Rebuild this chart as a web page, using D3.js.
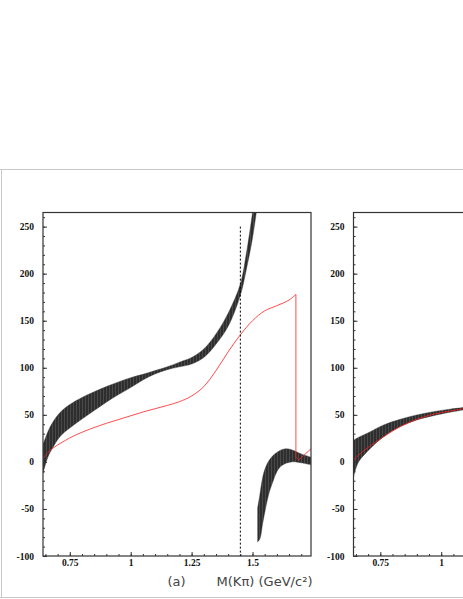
<!DOCTYPE html>
<html>
<head>
<meta charset="utf-8">
<script src="https://cdn.jsdelivr.net/npm/d3@7"></script>
<style>
  body { margin: 0; background: #fff; }
  svg { display: block; }
</style>
</head>
<body>
<div id="chart"></div>
<script>
// panel (a): error band, first branch (below the pole)
const massA = [0.64, 0.66, 0.68, 0.71, 0.75, 0.8, 0.85, 0.9, 0.95, 1.0, 1.05, 1.1, 1.15, 1.2, 1.25, 1.3, 1.35, 1.4, 1.45, 1.475, 1.5, 1.525]
const highA = [18, 32, 42, 52.5, 61, 68.5, 74.5, 80, 85, 89.5, 93, 97, 101, 106, 111, 120, 136, 158, 189, 222, 265, 315]
const lowA  = [-12, 5, 15, 27, 36, 45.5, 54.5, 63.5, 71.5, 79, 87, 93.5, 98, 101, 104, 111, 125, 144, 177, 205, 238, 283]

// panel (a): error band, second branch (above the pole)
const massB = [1.521, 1.53, 1.542, 1.555, 1.569, 1.585, 1.597, 1.615, 1.637, 1.66, 1.678, 1.70, 1.74]
const highB = [-49, -35, -16, -5, 2, 7, 9.5, 12.5, 14, 13, 11, 8.5, 5]
const lowB  = [-85, -82, -65, -47.5, -32, -20, -12, -5, -1.5, 0, 0, -1, -3]

// panel (a): red curve
const redMass = [0.64, 0.66, 0.68, 0.71, 0.75, 0.8, 0.85, 0.9, 0.95, 1.0, 1.05, 1.1, 1.15, 1.2, 1.25, 1.3, 1.35, 1.4, 1.45, 1.5, 1.55, 1.6, 1.65, 1.678]
const redVal  = [3, 10, 14.5, 19.5, 25.5, 31.5, 36.5, 41, 45, 49, 53, 56.5, 60, 64, 70, 80, 97, 117, 135, 150, 160.5, 166, 172, 178]
const redTailMass = [1.678, 1.678, 1.69, 1.74]
const redTailVal  = [178, 5, 2, 14]

// panel (b): visible part
const massR = [0.64, 0.66, 0.696, 0.764, 0.832, 0.9, 0.968, 1.036, 1.09]
const highR = [23, 26, 30.4, 39.3, 45.3, 49.9, 53.4, 56, 57.7]
const lowR  = [-16, -0.5, 10.9, 26.8, 37.5, 44.6, 49.1, 52.8, 55.2]
const redR  = [2, 7, 14.5, 26.8, 37.5, 45.3, 50.6, 54, 56.6]

// ticks
const yMajor = [-100, -50, 0, 50, 100, 150, 200, 250]
const xMajor = [0.75, 1, 1.25, 1.5]
const cutMass = 1.45

;(function () {

  const width = 463
  const height = 599

  const svg = d3.select("#chart").append("svg")
      .attr("width", width)
      .attr("height", height)
      .style("font-family", "'Liberation Serif', serif")

  // the grey page frame
  svg.append("path")
    .attr("d", "M0,169.5 H463 M1.5,169.5 V597.5 M0,597.5 H463")
    .attr("fill", "none")
    .attr("stroke", "#c8c8c8")
    .attr("stroke-width", 1)

  const defs = svg.append("defs")

  // band is drawn as lots of vertical error lines, fake it with a hatch
  const pat = defs.append("pattern")
    .attr("id", "hatch")
    .attr("patternUnits", "userSpaceOnUse")
    .attr("width", 3)
    .attr("height", 10)
  pat.append("rect").attr("width", 3).attr("height", 10).attr("fill", "#2e2e2e")
  pat.append("line")
    .attr("x1", 1.5).attr("x2", 1.5).attr("y1", 0).attr("y2", 10)
    .attr("stroke", "#545454").attr("stroke-width", 0.7)

  const yPositionScale = d3.scaleLinear()
    .domain([-100, 265])
    .range([556, 212.5])

  function drawPanel (id, x0, bands, reds) {
    const xPositionScale = d3.scaleLinear()
      .domain([0.64, 1.74])
      .range([x0, x0 + 268])

    defs.append("clipPath").attr("id", "clip-" + id)
      .append("rect")
      .attr("x", x0)
      .attr("y", yPositionScale(265))
      .attr("width", 268)
      .attr("height", yPositionScale(-100) - yPositionScale(265))

    const plot = svg.append("g").attr("clip-path", "url(#clip-" + id + ")")

    const area = d3.area()
      .x(d => xPositionScale(d[0]))
      .y0(d => yPositionScale(d[1]))
      .y1(d => yPositionScale(d[2]))
      .curve(d3.curveCatmullRom.alpha(0.5))

    bands.forEach(b => {
      const rows = b.mass.map((m, i) => [m, b.low[i], b.high[i]])
      plot.append("path")
        .datum(rows)
        .attr("d", area)
        .attr("fill", "url(#hatch)")
        .attr("stroke", "#333")
        .attr("stroke-width", 0.4)
    })

    reds.forEach(r => {
      const line = d3.line()
        .x(d => xPositionScale(d[0]))
        .y(d => yPositionScale(d[1]))
        .curve(r.smooth ? d3.curveCatmullRom.alpha(0.5) : d3.curveLinear)
      plot.append("path")
        .datum(r.mass.map((m, i) => [m, r.val[i]]))
        .attr("d", line)
        .attr("fill", "none")
        .attr("stroke", "#ff2020")
        .attr("stroke-width", 0.8)
    })

    // minor ticks
    svg.append("g")
      .attr("transform", "translate(" + x0 + ",0)")
      .call(d3.axisLeft(yPositionScale).tickValues(d3.range(-100, 261, 10)).tickSize(-2).tickFormat(""))
      .call(g => g.select(".domain").remove())
      .selectAll("line").attr("stroke", "#333")
    svg.append("g")
      .attr("transform", "translate(0,556)")
      .call(d3.axisBottom(xPositionScale).tickValues(d3.range(0.65, 1.74, 0.05)).tickSize(-2).tickFormat(""))
      .call(g => g.select(".domain").remove())
      .selectAll("line").attr("stroke", "#333")

    // major ticks + labels
    const yAxis = svg.append("g")
      .attr("transform", "translate(" + x0 + ",0)")
      .call(d3.axisLeft(yPositionScale).tickValues(yMajor).tickSize(-4).tickPadding(9).tickFormat(d => String(d)))
    yAxis.select(".domain").remove()
    yAxis.selectAll("line").attr("stroke", "#333")
    yAxis.selectAll("text")
      .attr("font-family", "'Liberation Serif', serif")
      .attr("font-weight", "bold")
      .attr("font-size", 9.5)
      .attr("fill", "#111")

    // only the labels that land inside the page
    const shown = xMajor.filter(d => xPositionScale(d) < width - 10)
    const xAxis = svg.append("g")
      .attr("transform", "translate(0,556)")
      .call(d3.axisBottom(xPositionScale).tickValues(shown).tickSize(-4).tickPadding(3.5).tickFormat(d => String(d)))
    xAxis.select(".domain").remove()
    xAxis.selectAll("line").attr("stroke", "#333")
    xAxis.selectAll("text")
      .attr("font-family", "'Liberation Serif', serif")
      .attr("font-weight", "bold")
      .attr("font-size", 9.5)
      .attr("fill", "#111")

    // box round the plot
    svg.append("rect")
      .attr("x", x0)
      .attr("y", yPositionScale(265))
      .attr("width", 268)
      .attr("height", yPositionScale(-100) - yPositionScale(265))
      .attr("fill", "none")
      .attr("stroke", "#333")
      .attr("stroke-width", 1.2)

    return xPositionScale
  }

  const xA = drawPanel("a", 43,
    [{ mass: massA, low: lowA, high: highA }, { mass: massB, low: lowB, high: highB }],
    [{ mass: redMass, val: redVal, smooth: true }, { mass: redTailMass, val: redTailVal, smooth: false }])

  drawPanel("b", 353.5,
    [{ mass: massR, low: lowR, high: highR }],
    [{ mass: massR, val: redR, smooth: true }])

  // dashed line at the cut
  svg.append("line")
    .attr("x1", xA(cutMass)).attr("x2", xA(cutMass))
    .attr("y1", yPositionScale(250)).attr("y2", yPositionScale(-100))
    .attr("stroke", "#000")
    .attr("stroke-width", 1)
    .attr("stroke-dasharray", "2,2")

  // axis title
  svg.append("text")
    .text("(a)")
    .attr("x", 176.5)
    .attr("y", 586)
    .attr("text-anchor", "middle")
    .attr("font-family", "'DejaVu Sans', sans-serif")
    .attr("font-size", 13)
    .attr("fill", "#444")

  svg.append("text")
    .text("M(Kπ) (GeV/c²)")
    .attr("x", 216.5)
    .attr("y", 586)
    .attr("textLength", 96)
    .attr("lengthAdjust", "spacingAndGlyphs")
    .attr("font-family", "'DejaVu Sans', sans-serif")
    .attr("font-size", 13)
    .attr("fill", "#444")

})();
</script>
</body>
</html>
